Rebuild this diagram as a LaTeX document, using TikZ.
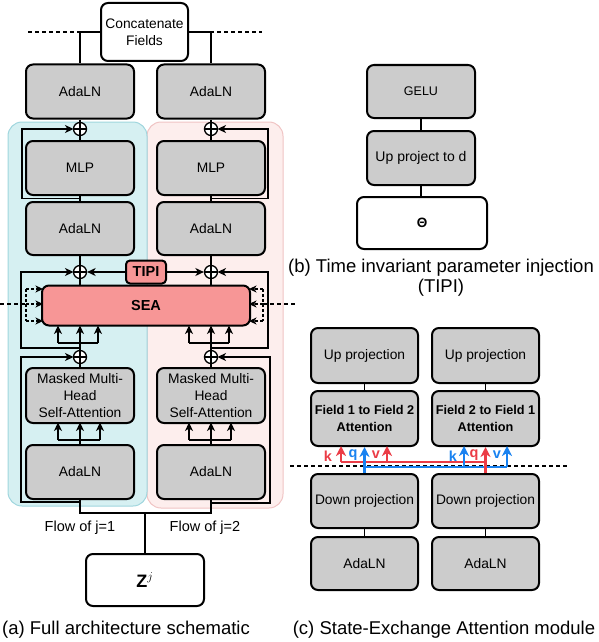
\documentclass[tikz,border=0pt]{standalone}
\usepackage{fontspec}
\setmainfont{Liberation Sans}
\usetikzlibrary{arrows.meta,calc}
\definecolor{boxgray}{RGB}{204,204,204}
\definecolor{seared}{RGB}{247,150,150}
\definecolor{cyanbg}{RGB}{214,240,242}
\definecolor{cyanbd}{RGB}{160,214,222}
\definecolor{pinkbg}{RGB}{253,238,237}
\definecolor{pinkbd}{RGB}{240,196,196}
\definecolor{kred}{RGB}{235,60,70}
\definecolor{kblue}{RGB}{25,130,240}
\begin{document}
\begin{tikzpicture}[x=1pt,y=-1pt,
  blk/.style={draw, line width=2, rounded corners=7, fill=boxgray, minimum width=108, minimum height=54, inner sep=0, align=center, font=\fontsize{13.8}{17}\selectfont},
  wbox/.style={blk, fill=white},
  redbox/.style={blk, fill=seared, font=\bfseries\fontsize{14.5}{17}\selectfont},
  plusnode/.style={circle, draw, line width=1.3, minimum size=13, inner sep=0, fill=white},
  conn/.style={line width=1.3},
  arr/.style={conn, -{Stealth[length=8.5,width=8,inset=2.5]}},
  darr/.style={conn, dashed, dash pattern=on 3pt off 2pt, -{Stealth[length=7.5,width=7,inset=2.2]}},
  sep/.style={line width=1.2, dash pattern=on 4pt off 3pt},
  capt/.style={font=\fontsize{18.5}{20}\selectfont, align=center, inner sep=0},
  lbl/.style={font=\fontsize{14.5}{17}\selectfont, inner sep=0},
  ltr/.style={font=\bfseries\fontsize{14.5}{14}\selectfont, inner sep=0},
  rline/.style={draw=kred, line width=2.3},
  bline/.style={draw=kblue, line width=2.3},
  rarr/.style={rline, -{Stealth[length=10,width=10,inset=3]}},
  barr/.style={bline, -{Stealth[length=10,width=10,inset=3]}}]
\useasboundingbox (0,0) rectangle (598,642);
% panels
\draw[fill=pinkbg, draw=pinkbd, line width=1, rounded corners=14] (147,122) rectangle (283,508);
\draw[fill=cyanbg, draw=cyanbd, line width=1, rounded corners=14] (8,122) rectangle (147,506);
% separators
\draw[sep] (28,32) -- (262,32);
\draw[sep] (0,304) -- (26,304);
\draw[sep] (263,304) -- (295,304);
\draw[sep] (290,466) -- (567,466);

% ---------- (a) ----------
\node[wbox, minimum width=87, minimum height=58] (concat) at (144.5,32) {Concatenate\\Fields};
\node[blk] (adaAL) at (80,91.5) {AdaLN};
\node[blk] (adaAR) at (211,91.5) {AdaLN};
\node[blk] (mlpL) at (80,168) {MLP};
\node[blk] (mlpR) at (211,168) {MLP};
\node[blk, minimum height=53] (adaBL) at (80,228.5) {AdaLN};
\node[blk, minimum height=53] (adaBR) at (211,228.5) {AdaLN};
\node[redbox, minimum width=208, minimum height=40] (sea) at (146,305.5) {SEA};
\node[blk, minimum height=55] (mhaL) at (80,395.5) {Masked Multi-\\Head\\Self-Attention};
\node[blk, minimum height=55] (mhaR) at (211,395.5) {Masked Multi-\\Head\\Self-Attention};
\node[blk] (adaCL) at (80,472) {AdaLN};
\node[blk] (adaCR) at (211,472) {AdaLN};
\node[wbox, minimum width=118, minimum height=52, font=\fontsize{18}{20}\selectfont] (z) at (145,580) {$\mathbf{Z}^{j}$};
\node[lbl] (flow1) at (80,528) {Flow of j=1};
\node[lbl] (flow2) at (205,528) {Flow of j=2};
\node[capt] (capa) at (126,630) {(a) Full architecture schematic};

% concat links
\draw[conn] (concat.west) -| (adaAL.north);
\draw[conn] (concat.east) -| (adaAR.north);

% main vertical chains
\foreach \s in {L,R}{
  \draw[conn] (adaA\s.south) -- (mlp\s.north);
  \draw[conn] (mlp\s.south) -- (adaB\s.north);
  \draw[conn] (adaB\s.south) -- (adaB\s.south |- sea.north);
  \draw[conn] (mha\s.north) -- ++(0,-28);
}
% residual loops (a)
\draw[arr] (80,198.5) -- (22,198.5) -- (22,129) -- (73.5,129);
\draw[arr] (211,198.5) -- (268,198.5) -- (268,129) -- (217.5,129);
\draw[arr] (80,348) -- (21,348) -- (21,272) -- (73.5,272);
\draw[arr] (211,348) -- (268,348) -- (268,272) -- (217.5,272);
\draw[arr] (80,502) -- (21,502) -- (21,357) -- (73.5,357);
\draw[arr] (211,503) -- (270,503) -- (270,357) -- (217.5,357);

% SEA input forks
\foreach \c in {80,211}{
  \draw[conn] (\c,357) -- (\c,343);
  \draw[conn] (\c-22,343) -- (\c+18,343);
  \foreach \d in {-22,0,18} \draw[arr] (\c+\d,343) -- (\c+\d,325.5);
  \draw[conn] (\c,445) -- (\c,440);
  \draw[conn] (\c-22,440) -- (\c+20,440);
  \foreach \d in {-22,0,20} \draw[arr] (\c+\d,440) -- (\c+\d,422.5);
}
% plus nodes
\foreach \n/\x/\y in {p1L/80/129, p1R/211/129, p2L/80/272, p2R/211/272, p3L/80/357, p3R/211/357}{
  \node[plusnode] (\n) at (\x,\y) {};
  \draw[conn] (\n.north) -- (\n.south) (\n.west) -- (\n.east);
}
% TIPI
\node[redbox, minimum width=40, minimum height=23, rounded corners=4] (tipi) at (146,272) {TIPI};
\draw[arr] (tipi.west) -- (p2L.east);
\draw[arr] (tipi.east) -- (p2R.west);

% dashed brackets
\draw[conn, dashed, dash pattern=on 3pt off 2pt] (26,289) -- (26,321);
\foreach \y in {289,304,321} \draw[darr] (26,\y) -- (43,\y);
\draw[conn, dashed, dash pattern=on 3pt off 2pt] (263,289) -- (263,321);
\foreach \y in {289,304,321} \draw[darr] (263,\y) -- (249,\y);

% bottom merge
\coordinate (m) at (145,513);
\draw[conn] (adaCL.south) |- (m) -| (adaCR.south);
\draw[conn] (m) -- (z.north);

% ---------- (b) ----------
\node[blk, minimum height=53, font=\fontsize{12.5}{15}\selectfont] (gelu) at (421,91.5) {GELU};
\node[blk, font=\fontsize{14}{15}\selectfont] (upd) at (421,158) {Up project to d};
\node[wbox, minimum width=130, minimum height=52, font=\bfseries\fontsize{13.5}{15}\selectfont] (theta) at (422,223) {Θ};
\draw[conn] (gelu.south) -- (upd.north);
\draw[conn] (upd.south) -- (upd.south |- theta.north);
\node[capt, font=\fontsize{18.5}{20}\selectfont] (capb) at (441,278) {(b) Time invariant parameter injection\\(TIPI)};

% ---------- (c) ----------
\node[blk, minimum width=107, minimum height=55] (upL) at (364.5,355.5) {Up projection};
\node[blk, minimum width=107, minimum height=55] (upR) at (485.5,355.5) {Up projection};
\node[blk, minimum width=107, minimum height=55, font=\bfseries\fontsize{12.7}{17}\selectfont] (attL) at (364.5,418.5) {Field 1 to Field 2\\Attention};
\node[blk, minimum width=107, minimum height=55, font=\bfseries\fontsize{12.7}{17}\selectfont] (attR) at (485.5,418.5) {Field 2 to Field 1\\Attention};
\node[blk, minimum width=107] (downL) at (364.5,501) {Down projection};
\node[blk, minimum width=107] (downR) at (485.5,501) {Down projection};
\node[blk, minimum width=107, minimum height=53] (adaDL) at (364.5,563.5) {AdaLN};
\node[blk, minimum width=107, minimum height=53] (adaDR) at (485.5,563.5) {AdaLN};
\draw[conn] (upL.south) -- (attL.north);
\draw[conn] (upR.south) -- (attR.north);
\draw[conn] (downL.south) -- (adaDL.north);
\draw[conn] (downR.south) -- (adaDR.north);
\node[capt] (capc) at (444,630) {(c) State-Exchange Attention module};

% k q v routing
\draw[rline] (485.5,462) -- (341,462);
\draw[bline] (364.5,467) -- (507,467);
\draw[barr] (downL.north) -- (attL.south);
\draw[barr] (464,467) -- (464,446);
\draw[barr] (507,467) -- (507,446);
\draw[rarr] (341,462) -- (341,446);
\draw[rarr] (387,462) -- (387,446);
\draw[rarr] (downR.north) -- (attR.south);
\node[ltr, text=kred] (lk1) at (328,456) {k};
\node[ltr, text=kblue] (lq1) at (353,455) {q};
\node[ltr, text=kred] (lv1) at (376,455) {v};
\node[ltr, text=kblue] (lk2) at (453,456) {k};
\node[ltr, text=kred] (lq2) at (474,455) {q};
\node[ltr, text=kblue] (lv2) at (497,455) {v};
\end{tikzpicture}
\end{document}
